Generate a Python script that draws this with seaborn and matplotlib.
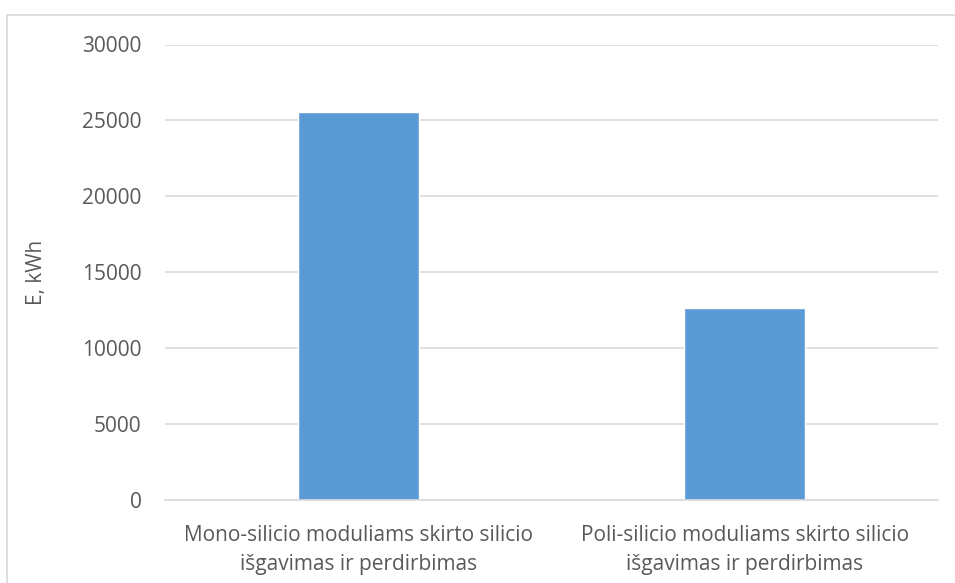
import matplotlib
matplotlib.use("Agg")
import matplotlib.pyplot as plt
import seaborn as sns
import pandas as pd
from matplotlib.patches import Rectangle

categories = [
    "Mono-silicio moduliams skirto silicio\nišgavimas ir perdirbimas",
    "Poli-silicio moduliams skirto silicio\nišgavimas ir perdirbimas",
]
energy_kwh = [25540, 12630]
y_ticks = [0, 5000, 10000, 15000, 20000, 25000, 30000]

sns.set_theme(style="white")
plt.rcParams["font.family"] = ["Open Sans", "DejaVu Sans"]

text_color = "#595959"
grid_color = "#D9D9D9"
bar_color = "#5B9BD5"

df = pd.DataFrame({"category": categories, "energy": energy_kwh})

fig = plt.figure(figsize=(9.55, 5.83), dpi=100)
ax = fig.add_axes([165 / 955, 1 - 500 / 583, (938 - 165) / 955, (500 - 44.5) / 583])

sns.barplot(data=df, x="category", y="energy", color=bar_color,
            saturation=1, width=0.313, ax=ax)

ax.set_ylim(0, 30000)
ax.set_xlim(-0.5, 1.5)
ax.set_yticks(y_ticks)
ax.set_yticklabels([str(t) for t in y_ticks])
ax.yaxis.grid(True, color=grid_color, linewidth=1.2)
ax.set_axisbelow(True)
for side in ["top", "right", "left"]:
    ax.spines[side].set_visible(False)
ax.spines["bottom"].set_color(grid_color)
ax.spines["bottom"].set_linewidth(1.2)
ax.tick_params(axis="both", length=0, labelsize=15, colors=text_color)
ax.tick_params(axis="y", pad=17)
ax.tick_params(axis="x", pad=18)
for lbl in ax.get_xticklabels():
    lbl.set_linespacing(1.5)
ax.set_xlabel("")
ax.set_ylabel("E, kWh", fontsize=15, color=text_color)
ax.yaxis.set_label_coords(-0.153, 0.5)

# outer chart frame
fig.patches.append(Rectangle((7 / 955, -0.1), 1.2, 1 - 15 / 583 + 0.1,
                             transform=fig.transFigure, fill=False,
                             edgecolor=grid_color, linewidth=1.2))

fig.savefig("out.png", dpi=100)
